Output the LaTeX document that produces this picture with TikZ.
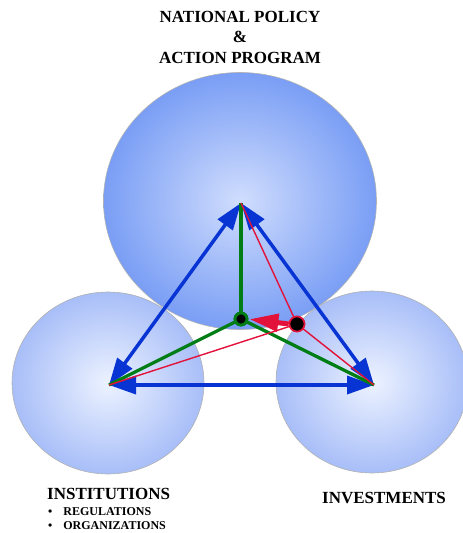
\documentclass[tikz,border=0pt]{standalone}
\usepackage{fontspec}
\setmainfont{Liberation Serif}
\usetikzlibrary{arrows.meta,shapes.geometric}

\definecolor{topcore}{RGB}{208,221,253}
\definecolor{topedge}{RGB}{122,158,245}
\definecolor{lowcore}{RGB}{236,242,255}
\definecolor{lowedge}{RGB}{168,190,248}
\definecolor{linkblue}{RGB}{8,52,212}
\definecolor{linkgreen}{RGB}{0,125,20}
\definecolor{linkred}{RGB}{226,18,58}

\begin{document}
\begin{tikzpicture}[x=1pt,y=-1pt,
    lobe/.style={ellipse, draw=gray!60, line width=0.6pt, inner sep=0pt},
    toplobe/.style={lobe, inner color=topcore, outer color=topedge,
                    minimum width=273pt, minimum height=257pt},
    lowlobe/.style={lobe, inner color=lowcore, outer color=lowedge,
                    minimum width=192pt, minimum height=182pt},
    heading/.style={inner sep=0pt, font=\fontsize{17}{20.5}\selectfont\bfseries},
    item/.style={inner sep=0pt, anchor=west, font=\fontsize{12}{14}\selectfont\bfseries},
    bluelink/.style={draw=linkblue, fill=linkblue, line width=3.5pt,
                     {Triangle[length=27pt,width=18pt]}-{Triangle[length=27pt,width=18pt]}},
    greenlink/.style={draw=linkgreen, line width=3.3pt},
    redlink/.style={draw=linkred, line width=1.4pt},
    redarrow/.style={draw=linkred, line width=5pt,
                     -{Triangle[length=29pt,width=17pt]}},
    hub/.style={circle, draw=linkgreen, line width=2.8pt, fill=black,
                minimum size=12pt, inner sep=0pt},
    shiftdot/.style={circle, draw=linkred, line width=1.6pt, fill=black,
                 minimum size=15pt, inner sep=0pt}
  ]
    \useasboundingbox (0,0) rectangle (463,533);

    % the three spheres
    \node[lowlobe] (institutions) at (108,383) {};
    \node[toplobe] (policy) at (240,201) {};
    \node[lowlobe] (investments) at (372,382) {};

    % corners of the triangle
    \coordinate (ctop) at (241,203);
    \coordinate (cleft) at (109,385);
    \coordinate (cright) at (374,385);

    \node[hub] (hub) at (241,319) {};
    \node[shiftdot] (shift) at (297,324) {};

    \draw[bluelink] (ctop) -- (cleft);
    \draw[bluelink] (ctop) -- (cright);
    \draw[bluelink] (cleft) -- (cright);

    \draw[greenlink] (hub.center) -- (ctop);
    \draw[greenlink] (hub.center) -- (cleft);
    \draw[greenlink] (hub.center) -- (cright);

    \draw[redlink] (shift.center) -- (ctop);
    \draw[redlink] (shift.center) -- (cleft);
    \draw[redlink] (shift.center) -- (cright);

    \draw[redarrow, shorten >=1pt] (shift.west) -- (hub.east);

    \node[hub] at (hub) {};
    \node[shiftdot] at (shift) {};

    % labels
    \node[heading, align=center] (policylabel) at (240,37)
      {NATIONAL POLICY\\\&\\ACTION PROGRAM};
    \node[heading, anchor=west] (instlabel) at (47,494) {INSTITUTIONS};
    \node[item] (regs) at (48,512) {\textbullet\hspace{11pt}REGULATIONS};
    \node[item] (orgs) at (48,526) {\textbullet\hspace{11pt}ORGANIZATIONS};
    \node[heading, anchor=west] (invlabel) at (322,498) {INVESTMENTS};
  \end{tikzpicture}
\end{document}
